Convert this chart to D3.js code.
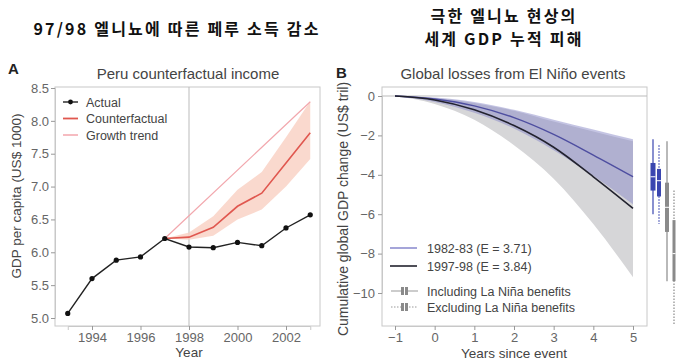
<!DOCTYPE html>
<html><head><meta charset="utf-8">
<script src="https://cdn.jsdelivr.net/npm/d3@7/dist/d3.min.js"></script>
<style>body{margin:0;background:#fff}svg{display:block}</style>
</head><body><svg id="c" width="677" height="362"></svg>
<script>
// ---- Panel A data ----
const years = [1993,1994,1995,1996,1997,1998,1999,2000,2001,2002,2003];
const actual = [5.07,5.60,5.88,5.93,6.21,6.08,6.07,6.15,6.10,6.37,6.57];
const cfYears = [1997,1998,1999,2000,2001,2002,2003];
const counterfactual = [6.21,6.23,6.38,6.70,6.90,7.36,7.82];
const cfUpper = [6.21,6.30,6.55,6.95,7.22,7.75,8.30];
const cfLower = [6.21,6.19,6.25,6.50,6.65,7.00,7.42];
const trendYears = [1997,2003];
const growthTrend = [6.21,8.29];
const yTicksA = [5.0,5.5,6.0,6.5,7.0,7.5,8.0,8.5];
const xTicksA = [1994,1996,1998,2000,2002];

// ---- Panel B data ----
const since = [-1,0,1,2,3,4,5];
const loss8283 = [0,-0.15,-0.5,-1.1,-1.95,-3.0,-4.1];
const loss9798 = [0,-0.2,-0.7,-1.5,-2.6,-4.1,-5.7];
const band8283Up = [0,-0.08,-0.3,-0.7,-1.2,-1.7,-2.2];
const band8283Lo = [0,-0.3,-0.85,-1.65,-2.75,-4.05,-5.5];
const band9798Up = [0,-0.1,-0.35,-0.75,-1.3,-1.8,-2.3];
const band9798Lo = [0,-0.4,-1.2,-2.5,-4.2,-6.5,-9.2];
const yTicksB = [0,-2,-4,-6,-8,-10];
const xTicksB = [-1,0,1,2,3,4,5];
// box plots at year 5 (82-83 incl, 82-83 excl, 97-98 incl, 97-98 excl)
const boxWhiskerHi = [-2.2,-2.5,-2.3,-4.8];
const boxQ3 = [-3.4,-3.7,-4.4,-6.3];
const boxMedian = [-4.1,-4.3,-5.65,-8.0];
const boxQ1 = [-4.8,-5.1,-6.9,-9.4];
const boxWhiskerLo = [-6.0,-6.5,-9.4,-11.6];

const svg = d3.select("#c");
const font = "'Liberation Sans', Arial, sans-serif";
const kfont = "'Noto Sans CJK KR', sans-serif";
const txt = "#444", tick = "#666", frame = "#c8c8c8";

// titles
const title = (x,y,s)=>svg.append("text").attr("x",x).attr("y",y).attr("text-anchor","middle")
  .attr("font-family",kfont).attr("font-weight","bold").attr("font-size",16)
  .attr("letter-spacing","2.2px").attr("fill","#111").text(s);
title(177,35,"97/98 엘니뇨에 따른 페루 소득 감소");
title(504,21.5,"극한 엘니뇨 현상의");
title(504,45,"세계 GDP 누적 피해");

// ===== Panel A =====
const A = {l:55,r:320,t:87,b:326};
const xA = d3.scaleLinear().domain([1993,2003]).range([67.75,310.25]);
const yA = d3.scaleLinear().domain([5,8.5]).range([318,88]);
const gA = svg.append("g");
gA.append("rect").attr("x",A.l).attr("y",A.t).attr("width",A.r-A.l).attr("height",A.b-A.t)
  .attr("fill","none").attr("stroke",frame);
gA.append("text").attr("x",8).attr("y",74).attr("font-family",font).attr("font-weight","bold")
  .attr("font-size",15).attr("fill","#222").text("A");
gA.append("text").attr("x",188).attr("y",79).attr("text-anchor","middle")
  .attr("font-family",font).attr("font-size",15).attr("fill",txt).text("Peru counterfactual income");
// axes
const axLA = gA.append("g").attr("transform",`translate(${A.l},0)`)
  .call(d3.axisLeft(yA).tickValues(yTicksA).tickFormat(d3.format(".1f")).tickSize(4).tickPadding(2));
const axBA = gA.append("g").attr("transform",`translate(0,${A.b})`)
  .call(d3.axisBottom(xA).tickValues(xTicksA).tickFormat(d3.format("d")).tickSize(4).tickPadding(3));
[axLA,axBA].forEach(a=>{a.select(".domain").attr("stroke",frame);
  a.selectAll("line").attr("stroke","#999");
  a.selectAll("text").attr("font-family",font).attr("font-size",13).attr("fill",tick);});
gA.append("text").attr("x",xA(1998)).attr("y",357).attr("text-anchor","middle")
  .attr("font-family",font).attr("font-size",13.5).attr("fill",txt).text("Year");
gA.append("text").attr("transform",`translate(21,196) rotate(-90)`).attr("text-anchor","middle")
  .attr("font-family",font).attr("font-size",13.5).attr("fill",txt).text("GDP per capita (US$ 1000)");
// vertical line 1998
gA.append("line").attr("x1",xA(1998)).attr("x2",xA(1998)).attr("y1",A.t).attr("y2",A.b)
  .attr("stroke","#bbb").attr("stroke-width",1);
// band
const areaA = d3.area().x((d,i)=>xA(cfYears[i])).y0((d,i)=>yA(cfLower[i])).y1((d,i)=>yA(cfUpper[i]));
gA.append("path").datum(cfYears).attr("d",areaA).attr("fill","#f9cfc2").attr("opacity",0.8);
const lineA = (xs,ys)=>d3.line().x((d,i)=>xA(xs[i])).y((d,i)=>yA(ys[i]))(xs);
gA.append("path").attr("d",lineA(trendYears,growthTrend)).attr("fill","none").attr("stroke","#f2a7ad").attr("stroke-width",1.2);
gA.append("path").attr("d",lineA(cfYears,counterfactual)).attr("fill","none").attr("stroke","#e0574f").attr("stroke-width",1.6);
gA.append("path").attr("d",lineA(years,actual)).attr("fill","none").attr("stroke","#222").attr("stroke-width",1.4);
gA.selectAll("circle.pt").data(years).join("circle").attr("cx",d=>xA(d)).attr("cy",(d,i)=>yA(actual[i]))
  .attr("r",2.6).attr("fill","#111");
// legend
const legA = [["Actual","#222",true],["Counterfactual","#e0574f",false],["Growth trend","#f5b5ba",false]];
legA.forEach((d,i)=>{const y=102+i*16.5;
  gA.append("line").attr("x1",63).attr("x2",78).attr("y1",y).attr("y2",y).attr("stroke",d[1]).attr("stroke-width",d[2]?1.4:1.8);
  if(d[2]) gA.append("circle").attr("cx",70.5).attr("cy",y).attr("r",2.4).attr("fill","#111");
  gA.append("text").attr("x",86).attr("y",y+4.5).attr("font-family",font).attr("font-size",12.5).attr("fill",txt).text(d[0]);
});

// ===== Panel B =====
const B = {l:382,r:647,t:87,b:326};
const xB = d3.scaleLinear().domain([-1,5]).range([395,633]);
const yB = d3.scaleLinear().domain([0,-10]).range([96,293]);
const gB = svg.append("g");
gB.append("rect").attr("x",B.l).attr("y",B.t).attr("width",B.r-B.l).attr("height",B.b-B.t)
  .attr("fill","none").attr("stroke",frame);
gB.append("text").attr("x",336).attr("y",78).attr("font-family",font).attr("font-weight","bold")
  .attr("font-size",15).attr("fill","#222").text("B");
gB.append("text").attr("x",513).attr("y",79).attr("text-anchor","middle")
  .attr("font-family",font).attr("font-size",15).attr("fill",txt).text("Global losses from El Niño events");
const axLB = gB.append("g").attr("transform",`translate(${B.l},0)`)
  .call(d3.axisLeft(yB).tickValues(yTicksB).tickFormat(d=>d===0?"0":"\u2212"+Math.abs(d)).tickSize(4).tickPadding(3));
const axBB = gB.append("g").attr("transform",`translate(0,${B.b})`)
  .call(d3.axisBottom(xB).tickValues(xTicksB).tickFormat(d=>d<0?"\u2212"+Math.abs(d):d).tickSize(4).tickPadding(3));
[axLB,axBB].forEach(a=>{a.select(".domain").attr("stroke",frame);
  a.selectAll("line").attr("stroke","#999");
  a.selectAll("text").attr("font-family",font).attr("font-size",13).attr("fill",tick);});
gB.append("text").attr("x",514).attr("y",358).attr("text-anchor","middle")
  .attr("font-family",font).attr("font-size",13.5).attr("fill",txt).text("Years since event");
gB.append("text").attr("transform",`translate(348,209) rotate(-90)`).attr("text-anchor","middle")
  .attr("font-family",font).attr("font-size",14).attr("fill",txt).text("Cumulative global GDP change (US$ tril)");
// zero line
gB.append("line").attr("x1",B.l).attr("x2",B.r).attr("y1",yB(0)).attr("y2",yB(0)).attr("stroke","#bbb");
const band = (up,lo)=>d3.area().x((d,i)=>xB(since[i])).y0((d,i)=>yB(lo[i])).y1((d,i)=>yB(up[i])).curve(d3.curveMonotoneX)(since);
gB.append("path").attr("d",band(band9798Up,band9798Lo)).attr("fill","#d6d6d8");
gB.append("path").attr("d",band(band8283Up,band8283Lo)).attr("fill","#8a8ac8").attr("opacity",0.5);
const lineB = ys=>d3.line().x((d,i)=>xB(since[i])).y((d,i)=>yB(ys[i])).curve(d3.curveMonotoneX)(since);
gB.append("path").attr("d",lineB(loss8283)).attr("fill","none").attr("stroke","#4e4ea0").attr("stroke-width",1.4);
gB.append("path").attr("d",lineB(loss9798)).attr("fill","none").attr("stroke","#22222e").attr("stroke-width",1.6);
// box plots outside right
const boxX = [653,659,667,674];
const boxW = [5,4,4,3];
const boxCol = ["#3a46b0","#3a46b0","#8a8a8a","#8a8a8a"];
const boxDash = [null,"1.5,1.5",null,"1.5,1.5"];
boxX.forEach((x,i)=>{
  gB.append("line").attr("x1",x).attr("x2",x).attr("y1",yB(boxWhiskerHi[i])).attr("y2",yB(boxWhiskerLo[i]))
    .attr("stroke",boxCol[i]).attr("stroke-width",1.2).attr("stroke-dasharray",boxDash[i]);
  gB.append("rect").attr("x",x-boxW[i]/2).attr("y",yB(boxQ3[i])).attr("width",boxW[i]).attr("height",yB(boxQ1[i])-yB(boxQ3[i]))
    .attr("fill",boxCol[i]);
  gB.append("line").attr("x1",x-boxW[i]/2).attr("x2",x+boxW[i]/2).attr("y1",yB(boxMedian[i])).attr("y2",yB(boxMedian[i]))
    .attr("stroke","#fff").attr("stroke-width",1);
});
// legend
const legB = [["1982-83 (E = 3.71)","#8f8fd0"],["1997-98 (E = 3.84)","#22222e"]];
legB.forEach((d,i)=>{const y=248+i*18;
  gB.append("line").attr("x1",390).attr("x2",417).attr("y1",y).attr("y2",y).attr("stroke",d[1]).attr("stroke-width",1.6);
  gB.append("text").attr("x",427).attr("y",y+4.5).attr("font-family",font).attr("font-size",12.5).attr("fill",txt).text(d[0]);
});
const legB2 = [["Including La Niña benefits",null],["Excluding La Niña benefits","1.5,1.5"]];
legB2.forEach((d,i)=>{const y=291+i*16;
  gB.append("line").attr("x1",391).attr("x2",418).attr("y1",y).attr("y2",y).attr("stroke","#999").attr("stroke-width",1).attr("stroke-dasharray",d[1]);
  gB.append("rect").attr("x",401).attr("y",y-4).attr("width",7).attr("height",8).attr("fill","#8a8a8a");
  gB.append("line").attr("x1",404.5).attr("x2",404.5).attr("y1",y-4).attr("y2",y+4).attr("stroke","#fff").attr("stroke-width",1);
  gB.append("text").attr("x",427).attr("y",y+4.5).attr("font-family",font).attr("font-size",12.5).attr("fill",txt).text(d[0]);
});
</script></body></html>
